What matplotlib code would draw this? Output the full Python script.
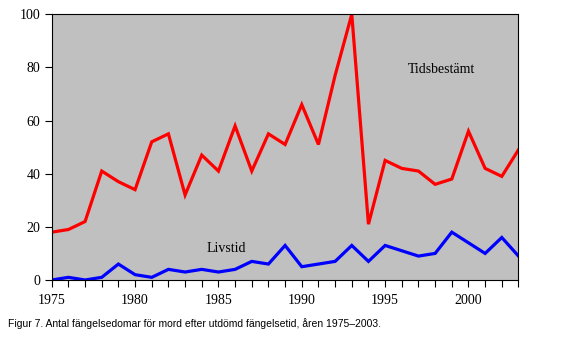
import numpy as np
import matplotlib.pyplot as plt

# ------------------------------------------------------------
# Data
# ------------------------------------------------------------
years = np.arange(1975, 2004)
tidsbestamt = [18, 19, 22, 41, 37, 34, 52, 55, 32, 47,
               41, 58, 41, 55, 51, 66, 51, 77, 100, 21,
               45, 42, 41, 36, 38, 56, 42, 39, 49]
livstid = [0, 1, 0, 1, 6, 2, 1, 4, 3, 4,
           3, 4, 7, 6, 13, 5, 6, 7, 13, 7,
           13, 11, 9, 10, 18, 14, 10, 16, 9]

y_ticks = [0, 20, 40, 60, 80, 100]
x_label_years = [1975, 1980, 1985, 1990, 1995, 2000]
caption = "Figur 7. Antal fängelsedomar för mord efter utdömd fängelsetid, åren 1975\u20132003."

# ------------------------------------------------------------
# Figure
# ------------------------------------------------------------
fig = plt.figure(figsize=(5.61, 3.51), dpi=100)
ax = fig.add_axes([0.0922, 0.2023, 0.832, 0.757])
ax.set_facecolor("#C0C0C0")

ax.plot(years, tidsbestamt, color="#FF0000", linewidth=2.3, solid_joinstyle="miter")
ax.plot(years, livstid, color="#0000FF", linewidth=2.3, solid_joinstyle="miter")

ax.text(1998.4, 79.4, "Tidsbestämt", fontsize=10, family="Liberation Serif",
        ha="center", va="center")
ax.text(1985.5, 11.7, "Livstid", fontsize=10, family="Liberation Serif",
        ha="center", va="center")

ax.set_xlim(1975, 2003)
ax.set_ylim(0, 100)
ax.set_xticks(years, minor=True)
ax.set_xticks(x_label_years)
ax.set_xticklabels([str(y) for y in x_label_years])
ax.set_yticks(y_ticks)

for lbl in ax.get_xticklabels() + ax.get_yticklabels():
    lbl.set_family("Liberation Serif")
    lbl.set_fontsize(10)

ax.tick_params(axis="both", which="both", direction="out", length=5,
               width=0.8, color="black")
ax.tick_params(axis="x", which="major", pad=5)
ax.tick_params(axis="y", which="major", pad=3)

for sp in ax.spines.values():
    sp.set_color("black")
    sp.set_linewidth(0.8)

fig.text(0.0143, 0.077, caption, fontsize=7.5, family="Liberation Sans",
         ha="left", va="center")

fig.savefig("out.png", dpi=100, facecolor="white")
